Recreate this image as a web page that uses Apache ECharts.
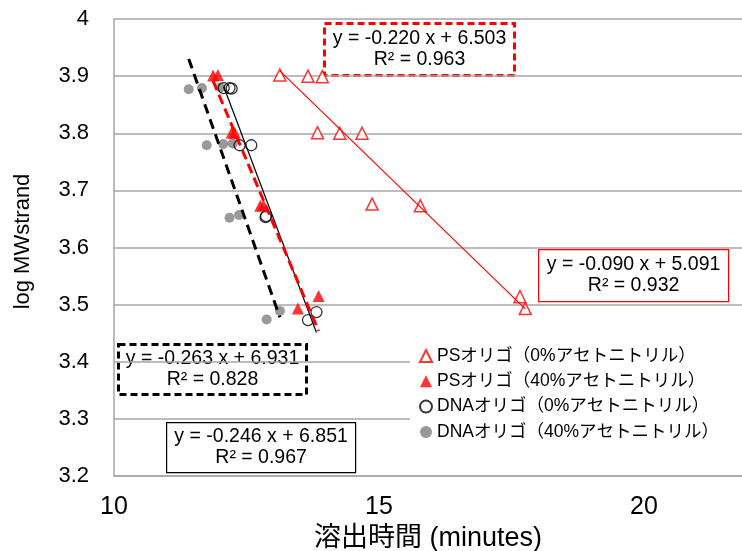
<!DOCTYPE html>
<html>
<head>
<meta charset="utf-8">
<script src="https://cdn.jsdelivr.net/npm/echarts@6/dist/echarts.min.js"></script>
<style>
html,body{margin:0;padding:0;background:#fff;}
#chart{width:742px;height:551px;}
</style>
</head>
<body>
<div id="chart"></div>
<script>
// ---- data ----
const seriesNames = ['PSオリゴ（0%アセトニトリル）','PSオリゴ（40%アセトニトリル）','DNAオリゴ（0%アセトニトリル）','DNAオリゴ（40%アセトニトリル）'];
const xPS0  = [13.13,13.66,13.93,13.84,14.26,14.68,14.87,15.78,17.66,17.76];
const yPS0  = [3.902,3.900,3.899,3.801,3.800,3.800,3.676,3.673,3.514,3.493];
const xPS40 = [11.87,11.96,12.22,12.28,12.76,12.82,13.47,13.86];
const yPS40 = [3.901,3.902,3.801,3.801,3.673,3.674,3.493,3.515];
const xDNA0 = [12.07,12.18,12.22,12.37,12.59,12.86,12.87,13.66,13.82];
const yDNA0 = [3.879,3.879,3.878,3.779,3.779,3.653,3.655,3.473,3.487];
const xDNA40 = [11.41,11.66,12.01,11.75,12.06,12.24,12.18,12.36,12.88,13.13];
const yDNA40 = [3.877,3.879,3.880,3.779,3.781,3.782,3.652,3.657,3.474,3.489];
// trendline coefficients (slope, intercept) and R² as printed
const slopes = [-0.090,-0.220,-0.246,-0.263];
const intercepts = [5.091,6.503,6.851,6.931];
const r2 = [0.932,0.963,0.967,0.828];
const xTicks = [10,15,20];

const FONT = '"Liberation Sans", Arial, "Noto Sans CJK JP", sans-serif';
const xs = [xPS0,xPS40,xDNA0,xDNA40];
const ys = [yPS0,yPS40,yDNA0,yDNA40];
const pairs = (a,b)=>a.map((v,i)=>[v,b[i]]);

function trend(i){
  const lo = Math.min(...xs[i]), hi = Math.max(...xs[i]);
  return [[lo, slopes[i]*lo+intercepts[i]],[hi, slopes[i]*hi+intercepts[i]]];
}
const fmt = (v)=>v.toFixed(3);
function eqText(i){
  return 'y = ' + fmt(slopes[i]) + ' x + ' + fmt(intercepts[i]) + '\nR² = ' + fmt(r2[i]);
}

const markerStyles = [
  {symbol:'triangle', symbolSize:12, itemStyle:{color:'#fff', borderColor:'#ff0000', borderWidth:1.5}},
  {symbol:'triangle', symbolSize:12, itemStyle:{color:'#ff0000', borderWidth:0}},
  {symbol:'circle', symbolSize:11, itemStyle:{color:'rgba(255,255,255,0)', borderColor:'#000', borderWidth:1.3}},
  {symbol:'circle', symbolSize:10, itemStyle:{color:'#7f7f7f', borderWidth:0}}
];
const lineStyles = [
  {color:'#ff0000', width:1.2, type:'solid'},
  {color:'#ff0000', width:3, type:[10,5]},
  {color:'#000', width:1.2, type:'solid'},
  {color:'#000', width:3, type:[10,6]}
];

const series = [];
[3,2,1,0].forEach(i=>{
  series.push(Object.assign({
    name: seriesNames[i], type:'scatter', data: pairs(xs[i], ys[i]), z:2
  }, markerStyles[i]));
});
[3,2,1,0].forEach(i=>{
  series.push({type:'line', data: trend(i), symbol:'none', lineStyle: lineStyles[i], z:3, silent:true});
});

function box(x,y,w,h,color,dashed,i){
  return {
    type:'group', left:x, top:y, z:10,
    children:[
      {type:'rect', shape:{x:0,y:0,width:w,height:h},
       style:{fill:'#fff', stroke:color, lineWidth: dashed?3:1.2, lineDash: dashed?[7,4]:null}},
      {type:'text', x:w/2, y:h/2,
       style:{text:eqText(i), fill:'#000', font:'19.5px '+FONT, textAlign:'center', textVerticalAlign:'middle', lineHeight:21}}
    ]
  };
}

const chart = echarts.init(document.getElementById('chart'), null, {renderer:'canvas'});
chart.setOption({
  backgroundColor:'#fff',
  animation:false,
  grid:{left:114, top:19, right:0, height:457, containLabel:false, outerBoundsMode:'none'},
  xAxis:{
    type:'value', min:10, max:21.85, interval:5,
    name:'溶出時間 (minutes)', nameLocation:'middle', nameGap:42,
    nameTextStyle:{fontSize:27, color:'#000', fontFamily:FONT},
    axisLine:{show:true, lineStyle:{color:'#a6a6a6', width:1.5}},
    axisTick:{show:false},
    splitLine:{show:false},
    axisLabel:{fontSize:25, color:'#000', fontFamily:FONT, margin:19,
      formatter:(v)=>xTicks.includes(v)?String(v):''}
  },
  yAxis:{
    type:'value', min:3.2, max:4, interval:0.1,
    name:'log MWstrand', nameLocation:'middle', nameGap:80, nameRotate:90,
    nameTextStyle:{fontSize:22, color:'#000', fontFamily:FONT, padding:[0,0,0,12]},
    axisLine:{show:true, lineStyle:{color:'#a6a6a6', width:1.5}},
    axisTick:{show:false},
    splitLine:{show:true, lineStyle:{color:'#a6a6a6', width:1.5}},
    axisLabel:{fontSize:22, color:'#000', fontFamily:FONT, margin:25,
      formatter:(v)=>String(Math.round(v*10)/10)}
  },
  legend:{
    data: seriesNames, orient:'vertical', left:410, top:339,
    itemWidth:12, itemHeight:12, itemGap:7.3, padding:[8,45,8,9],
    backgroundColor:'#fff',
    textStyle:{fontSize:17.5, color:'#000', fontFamily:FONT, lineHeight:18}
  },
  graphic:[
    box(323,22,190,52,'#ff0000',true,1),
    box(538,249,190,52,'#ff0000',false,0),
    box(117,343,188,50,'#000',true,3),
    box(166,422,189,50,'#000',false,2)
  ],
  series: series
});
</script>
</body>
</html>
